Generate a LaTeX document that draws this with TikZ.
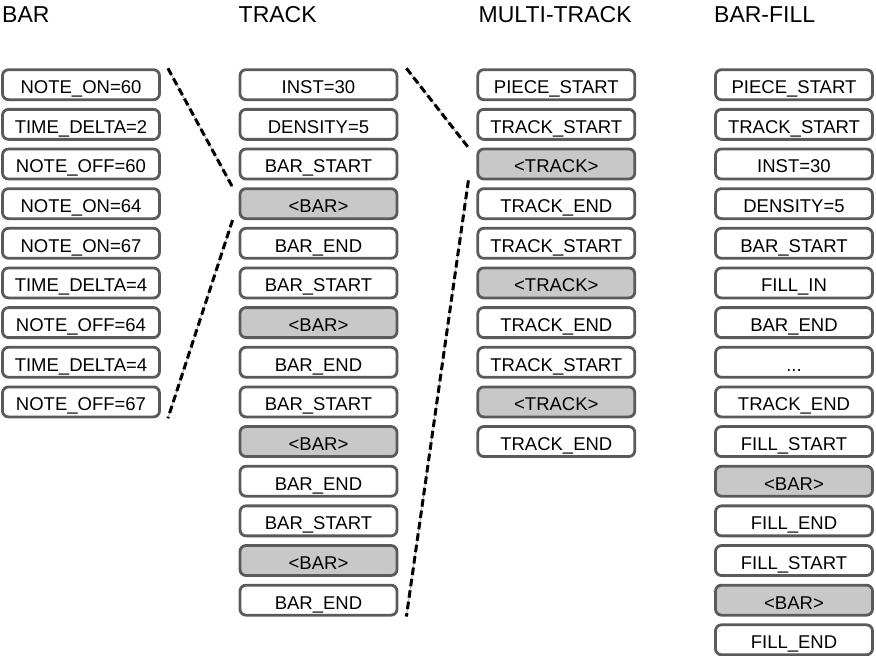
\documentclass[tikz,border=0pt]{standalone}
\usepackage{fontspec}
\setmainfont{Liberation Sans}
\definecolor{boxgray}{HTML}{5A5A5A}
\definecolor{hlgray}{HTML}{C8C8C8}
\begin{document}
\begin{tikzpicture}[x=1pt,y=-1pt,
  box/.style={draw=boxgray, line width=2.8pt, rounded corners=6pt, fill=white,
    minimum width=157pt, minimum height=30pt, inner sep=0pt,
    font=\fontsize{18.5}{20}\selectfont, text height=17.7pt, text depth=0pt},
  hl/.style={box, fill=hlgray},
  title/.style={anchor=base west, inner sep=0pt, font=\fontsize{23}{26}\selectfont},
  link/.style={draw=black, line width=3pt, dash pattern=on 7.5pt off 4pt,
    preaction={draw=gray!70, line width=0.8pt, solid}}]
\useasboundingbox (0,0) rectangle (876,656);
\node[title] (tb) at (2,22.7) {BAR};
\node[title] (tt) at (238.5,22.7) {TRACK};
\node[title] (tm) at (478.5,22.7) {MULTI-TRACK};
\node[title] (tf) at (714,22.7) {BAR-FILL};
\foreach [count=\i] \t/\s in {NOTE\_ON=60/box, TIME\_DELTA=2/box, NOTE\_OFF=60/box, NOTE\_ON=64/box, NOTE\_ON=67/box, TIME\_DELTA=4/box, NOTE\_OFF=64/box, TIME\_DELTA=4/box, NOTE\_OFF=67/box}
  \node[style=\s] (b\i) at (81,{84.7+(\i-1)*39.65}) {\t};
\foreach [count=\i] \t/\s in {INST=30/box, DENSITY=5/box, BAR\_START/box, <BAR>/hl, BAR\_END/box, BAR\_START/box, <BAR>/hl, BAR\_END/box, BAR\_START/box, <BAR>/hl, BAR\_END/box, BAR\_START/box, <BAR>/hl, BAR\_END/box}
  \node[style=\s] (t\i) at (318.5,{84.7+(\i-1)*39.65}) {\t};
\foreach [count=\i] \t/\s in {PIECE\_START/box, TRACK\_START/box, <TRACK>/hl, TRACK\_END/box, TRACK\_START/box, <TRACK>/hl, TRACK\_END/box, TRACK\_START/box, <TRACK>/hl, TRACK\_END/box}
  \node[style=\s] (m\i) at (556.3,{84.7+(\i-1)*39.65}) {\t};
\foreach [count=\i] \t/\s in {PIECE\_START/box, TRACK\_START/box, INST=30/box, DENSITY=5/box, BAR\_START/box, FILL\_IN/box, BAR\_END/box, .{}.{}./box, TRACK\_END/box, FILL\_START/box, <BAR>/hl, FILL\_END/box, FILL\_START/box, <BAR>/hl, FILL\_END/box}
  \node[style=\s] (f\i) at (794,{84.7+(\i-1)*39.65}) {\t};
\draw[link] ([xshift=7pt]b1.north east) -- ([xshift=-6pt]t4.north west);
\draw[link] ([xshift=-6pt]t4.south west) -- ([xshift=7pt]b9.south east);
\draw[link] ([xshift=8pt]t1.north east) -- ([xshift=-8pt]m3.north west);
\draw[link] ([xshift=-8pt]m3.south west) -- ([xshift=8pt]t14.south east);
\end{tikzpicture}
\end{document}
